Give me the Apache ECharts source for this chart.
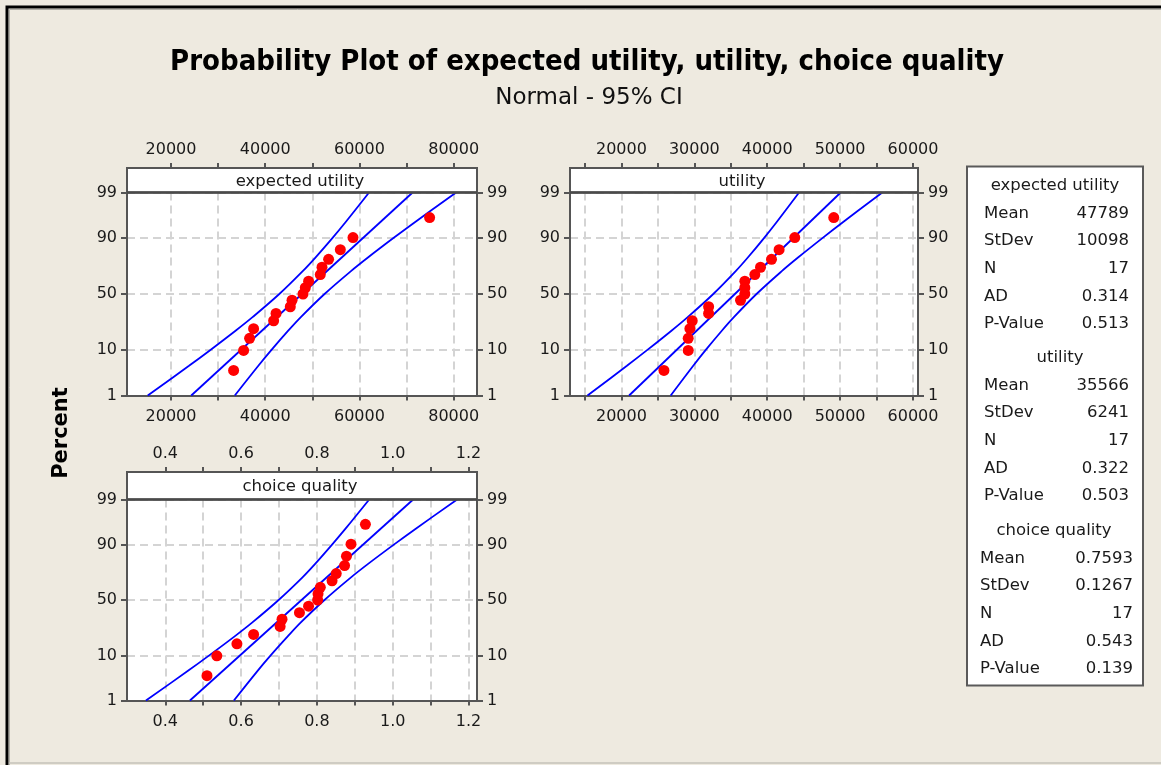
<!DOCTYPE html>
<html><head><meta charset="utf-8">
<script src="https://cdn.jsdelivr.net/npm/echarts@6/dist/echarts.min.js"></script>
<style>html,body{margin:0;padding:0;background:#EEEAE0}#c{width:1161px;height:765px}</style>
</head><body><div id="c"></div>
<script>
// ---------- data ----------
const titleText = 'Probability Plot of expected utility, utility, choice quality';
const subtitleText = 'Normal - 95% CI';
const yAxisName = 'Percent';
const panelNames = ['expected utility', 'utility', 'choice quality'];

// plotting positions (percent) of the 17 ranked observations
const plotPct = [4.0, 9.8, 15.5, 21.3, 27.0, 32.8, 38.5, 44.3, 50.0, 55.7, 61.5, 67.2, 73.0, 78.7, 84.5, 90.2, 96.0];
const percentTicks = [1, 10, 50, 90, 99];
const ciPct = [1, 5, 10, 20, 30, 50, 70, 80, 90, 95, 99];
const fitPct = [1, 99];

const euValues = [33290, 35410, 36680, 37530, 41780, 42290, 45320, 45690, 48020, 48510, 49210, 51690, 52050, 53450, 55940, 58630, 74890];
const euFit = [24300, 71280];
const euLower = [15060, 23820, 28370, 33700, 37370, 42990, 47960, 50700, 54250, 57040, 62040];
const euUpper = [33540, 38540, 41330, 44880, 47610, 52590, 58200, 61870, 67210, 71760, 80520];
const euTicks = [20000, 30000, 40000, 50000, 60000, 70000, 80000];
const euTickLabels = [20000, 40000, 60000, 80000];

const uValues = [25830, 29160, 29160, 29390, 29710, 31960, 31960, 36340, 36930, 36930, 36930, 38300, 39080, 40590, 41630, 43780, 49130];
const uFit = [21050, 50080];
const uLower = [15340, 20750, 23560, 26860, 29130, 32600, 35680, 37370, 39560, 41280, 44370];
const uUpper = [26760, 29850, 31570, 33770, 35460, 38530, 42000, 44270, 47570, 50380, 55790];
const uTicks = [15000, 20000, 25000, 30000, 35000, 40000, 45000, 50000, 55000, 60000];
const uTickLabels = [20000, 30000, 40000, 50000, 60000];

const cqValues = [0.510, 0.536, 0.589, 0.633, 0.703, 0.708, 0.754, 0.778, 0.802, 0.803, 0.809, 0.840, 0.851, 0.873, 0.878, 0.890, 0.928];
const cqFit = [0.465, 1.054];
const cqLower = [0.349, 0.459, 0.516, 0.583, 0.629, 0.699, 0.762, 0.796, 0.840, 0.875, 0.938];
const cqUpper = [0.581, 0.643, 0.678, 0.723, 0.757, 0.820, 0.890, 0.936, 1.003, 1.060, 1.170];
const cqTicks = [0.4, 0.5, 0.6, 0.7, 0.8, 0.9, 1.0, 1.1, 1.2];
const cqTickLabels = [0.4, 0.6, 0.8, 1.0, 1.2];

const statNames = ['Mean', 'StDev', 'N', 'AD', 'P-Value'];
const euStats = ['47789', '10098', '17', '0.314', '0.513'];
const uStats = ['35566', '6241', '17', '0.322', '0.503'];
const cqStats = ['0.7593', '0.1267', '17', '0.543', '0.139'];

// ---------- normal probability scale ----------
function probit(p) {
  const a = [-3.969683028665376e+01, 2.209460984245205e+02, -2.759285104469687e+02, 1.383577518672690e+02, -3.066479806614716e+01, 2.506628277459239e+00];
  const b = [-5.447609879822406e+01, 1.615858368580409e+02, -1.556989798598866e+02, 6.680131188771972e+01, -1.328068155288572e+01];
  const c = [-7.784894002430293e-03, -3.223964580411365e-01, -2.400758277161838e+00, -2.549732539343734e+00, 4.374664141464968e+00, 2.938163982698783e+00];
  const d = [7.784695709041462e-03, 3.224671290700398e-01, 2.445134137142996e+00, 3.754408661907416e+00];
  const pl = 0.02425, ph = 1 - pl;
  let q, r;
  if (p < pl) { q = Math.sqrt(-2 * Math.log(p)); return (((((c[0]*q+c[1])*q+c[2])*q+c[3])*q+c[4])*q+c[5]) / ((((d[0]*q+d[1])*q+d[2])*q+d[3])*q+1); }
  if (p > ph) { q = Math.sqrt(-2 * Math.log(1 - p)); return -(((((c[0]*q+c[1])*q+c[2])*q+c[3])*q+c[4])*q+c[5]) / ((((d[0]*q+d[1])*q+d[2])*q+d[3])*q+1); }
  q = p - 0.5; r = q * q;
  return (((((a[0]*r+a[1])*r+a[2])*r+a[3])*r+a[4])*r+a[5])*q / (((((b[0]*r+b[1])*r+b[2])*r+b[3])*r+b[4])*r+1);
}
const zTicks = percentTicks.map(p => probit(p / 100));
const zMin = zTicks[0], zMax = zTicks[zTicks.length - 1];
function pctLabel(v) {
  for (let i = 0; i < zTicks.length; i++) if (Math.abs(zTicks[i] - v) < 1e-6) return String(percentTicks[i]);
  return '';
}

// ---------- layout ----------
const panels = [
  { values: euValues, fit: euFit, lower: euLower, upper: euUpper, ticks: euTicks, labels: euTickLabels, dec: 0 },
  { values: uValues, fit: uFit, lower: uLower, upper: uUpper, ticks: uTicks, labels: uTickLabels, dec: 0 },
  { values: cqValues, fit: cqFit, lower: cqLower, upper: cqUpper, ticks: cqTicks, labels: cqTickLabels, dec: 1 }
];
const layout = [
  { left: 127, top: 192.5, width: 350, height: 203, header: 24.5, min: 10660, max: 84950 },
  { left: 570, top: 192.5, width: 348, height: 203, header: 24.5, min: 12940, max: 60690 },
  { left: 127, top: 499.5, width: 350, height: 201, header: 27.5, min: 0.299, max: 1.2224 }
];

const FONT = 'DejaVu Sans';
const AX = '#555555';
const TXT = '#1a1a1a';

const grids = [], xAxes = [], yAxes = [], series = [], graphics = [];
panels.forEach((p, gi) => {
  const L = layout[gi];
  grids.push({ left: L.left, top: L.top, width: L.width, height: L.height, show: true, backgroundColor: '#ffffff', borderWidth: 0, outerBoundsMode: 'none' });
  const fmt = v => p.dec ? Number(v).toFixed(p.dec) : String(Math.round(v));
  ['bottom', 'top'].forEach(pos => {
    xAxes.push({
      type: 'value', gridIndex: gi, position: pos, min: L.min, max: L.max,
      offset: pos === 'top' ? L.header : 0,
      axisLine: { show: true, onZero: false, lineStyle: { color: AX, width: 2 } },
      axisTick: { show: true, customValues: p.ticks, length: 5, lineStyle: { color: AX, width: 2 } },
      axisLabel: { show: true, customValues: p.labels, formatter: fmt, color: TXT, fontSize: 16, fontFamily: FONT, margin: pos === 'top' ? 10 : 13 },
      splitLine: { show: pos === 'bottom', lineStyle: { color: '#D4D4D4', width: 2, type: [8, 5] } }
    });
  });
  ['left', 'right'].forEach(pos => {
    yAxes.push({
      type: 'value', gridIndex: gi, position: pos, min: zMin, max: zMax,
      axisLine: { show: true, onZero: false, lineStyle: { color: AX, width: 2 } },
      axisTick: { show: true, customValues: zTicks, length: 6, lineStyle: { color: AX, width: 2 } },
      axisLabel: { show: true, customValues: zTicks, formatter: pctLabel, color: TXT, fontSize: 16, fontFamily: FONT, margin: 10 },
      splitLine: { show: pos === 'left', lineStyle: { color: '#D4D4D4', width: 2, type: [8, 5] } }
    });
  });
  const xi = gi * 2, yi = gi * 2;
  const lineStyle = { color: '#0000FF', width: 1.8 };
  const mkLine = (vals, pcts, smooth) => ({
    type: 'line', xAxisIndex: xi, yAxisIndex: yi, showSymbol: false, silent: true, z: 3,
    smooth: smooth, lineStyle, data: vals.map((v, i) => [v, probit(pcts[i] / 100)])
  });
  series.push(mkLine(p.lower, ciPct, 0.35), mkLine(p.fit, fitPct, false), mkLine(p.upper, ciPct, 0.35));
  series.push({
    type: 'scatter', name: panelNames[gi], xAxisIndex: xi, yAxisIndex: yi, symbolSize: 11, z: 5,
    itemStyle: { color: '#FF0000', opacity: 1 },
    data: p.values.map((v, i) => [v, probit(plotPct[i] / 100)])
  });
  // header strip
  graphics.push({ type: 'rect', z: 20, shape: { x: L.left, y: L.top - L.header, width: L.width, height: L.header },
    style: { fill: '#ffffff', stroke: AX, lineWidth: 2 } });
  graphics.push({ type: 'line', z: 21, shape: { x1: L.left, y1: L.top, x2: L.left + L.width, y2: L.top },
    style: { stroke: '#4a4a4a', lineWidth: 2.5 } });
  graphics.push({ type: 'text', z: 22, x: L.left + L.width / 2 - 2, y: L.top - L.header / 2 + 1,
    style: { text: panelNames[gi], font: '16.5px ' + FONT, fill: TXT, textAlign: 'center', textVerticalAlign: 'middle' } });
});

// outer frame lines
graphics.push({ type: 'polyline', z: 30, shape: { points: [[7, 765], [7, 7], [1161, 7]] }, style: { stroke: '#000', lineWidth: 3, fill: null } });
graphics.push({ type: 'polyline', z: 30, shape: { points: [[9.5, 765], [9.5, 9.5], [1161, 9.5]] }, style: { stroke: '#B0AEA6', lineWidth: 1, fill: null } });
graphics.push({ type: 'line', z: 30, shape: { x1: 9, y1: 763, x2: 1161, y2: 763 }, style: { stroke: '#C4C2BA', lineWidth: 1.5 } });

// titles
graphics.push({ type: 'text', z: 30, x: 587, y: 62, style: { text: titleText, font: 'bold 29px "DejaVu Sans Condensed", "DejaVu Sans"', fill: '#000', textAlign: 'center', textVerticalAlign: 'middle' } });
graphics.push({ type: 'text', z: 30, x: 589, y: 98, style: { text: subtitleText, font: '23px "DejaVu Sans"', fill: '#111', textAlign: 'center', textVerticalAlign: 'middle' } });
graphics.push({ type: 'text', z: 30, x: 62, y: 433, rotation: Math.PI / 2, style: { text: yAxisName, font: 'bold 21px "DejaVu Sans"', fill: '#000', textAlign: 'center', textVerticalAlign: 'middle' } });

// statistics box
graphics.push({ type: 'rect', z: 30, shape: { x: 967, y: 166.5, width: 176, height: 519 }, style: { fill: '#ffffff', stroke: '#5a5a5a', lineWidth: 2 } });
const statSets = [euStats, uStats, cqStats];
const secHeaderY = [186, 358, 531];
const secHeaderX = [1055, 1060, 1054];
const secLabelX = [984, 984, 980];
const secValueX = [1129, 1129, 1133];
statSets.forEach((st, s) => {
  graphics.push({ type: 'text', z: 31, x: secHeaderX[s], y: secHeaderY[s], style: { text: panelNames[s], font: '16.5px ' + FONT, fill: TXT, textAlign: 'center', textVerticalAlign: 'middle' } });
  st.forEach((val, k) => {
    const y = secHeaderY[s] + 27.6 * (k + 1);
    graphics.push({ type: 'text', z: 31, x: secLabelX[s], y, style: { text: statNames[k], font: '16.5px ' + FONT, fill: TXT, textAlign: 'left', textVerticalAlign: 'middle' } });
    graphics.push({ type: 'text', z: 31, x: secValueX[s], y, style: { text: val, font: '16.5px ' + FONT, fill: TXT, textAlign: 'right', textVerticalAlign: 'middle' } });
  });
});

const chart = echarts.init(document.getElementById('c'), null, { renderer: 'canvas' });
chart.setOption({
  backgroundColor: '#EEEAE0',
  animation: false,
  grid: grids, xAxis: xAxes, yAxis: yAxes, series,
  graphic: { elements: graphics }
});
</script>
</body></html>
